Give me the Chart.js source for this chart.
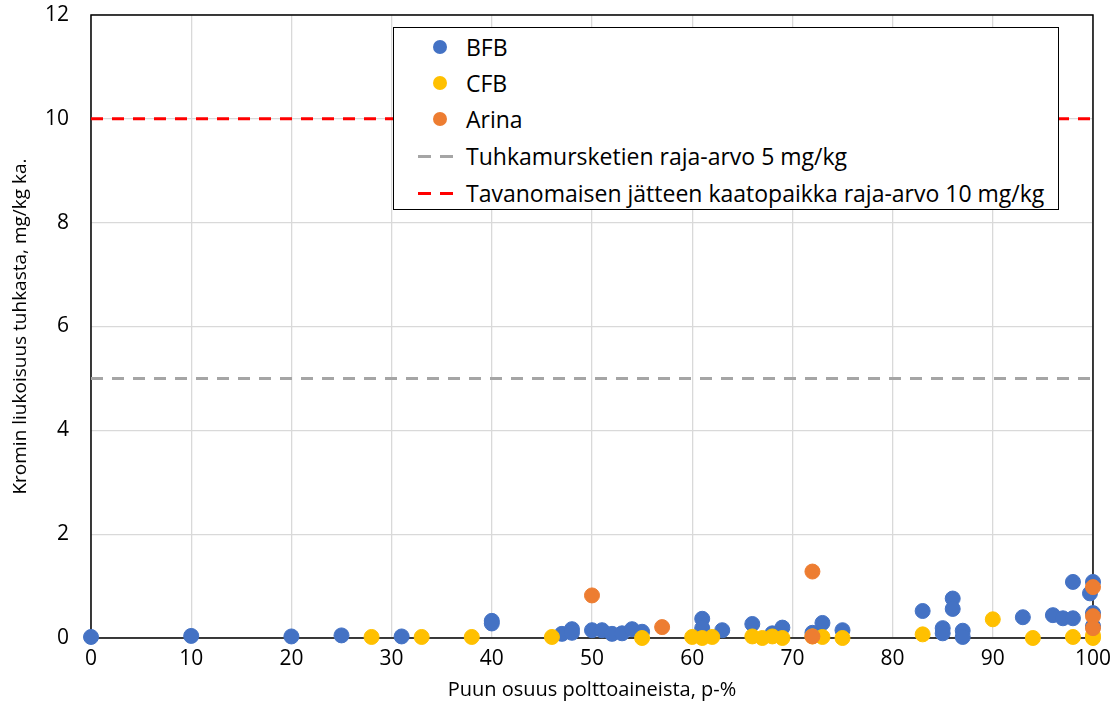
<!DOCTYPE html>
<html>
  <head>
    <title>Kromin liukoisuus tuhkasta</title>
    <script src="https://cdn.jsdelivr.net/npm/chart.js"></script>
    <style>
      body { margin: 0; background: #fff; font-family: "Open Sans", sans-serif; }
      #wrap { position: relative; width: 1119px; height: 724px; }
      #legend {
        position: absolute; left: 393px; top: 27px; width: 664px; height: 181px;
        border: 1px solid #000; background: #fff; font-size: 23px; color: #000;
      }
      .row { position: absolute; left: 0; width: 660px; height: 30px; }
      .row span.txt { position: absolute; left: 72px; top: 0; line-height: 30px; white-space: nowrap; }
      .dot { position: absolute; left: 39px; top: 8px; width: 14px; height: 14px; border-radius: 50%; }
      .dash { position: absolute; top: 14px; width: 13px; height: 3px; }
    </style>
  </head>
  <body>
    <div id="wrap">
      <canvas id="myChart" width="1119" height="724"></canvas>
      <div id="legend">
        <div class="row" style="top:4px"><div class="dot" style="background:#4472C4"></div><span class="txt">BFB</span></div>
        <div class="row" style="top:40px"><div class="dot" style="background:#FFC000"></div><span class="txt">CFB</span></div>
        <div class="row" style="top:76px"><div class="dot" style="background:#ED7D31"></div><span class="txt">Arina</span></div>
        <div class="row" style="top:113px"><div class="dash" style="left:24px;background:#A5A5A5"></div><div class="dash" style="left:46px;background:#A5A5A5"></div><span class="txt">Tuhkamursketien raja-arvo 5 mg/kg</span></div>
        <div class="row" style="top:150px"><div class="dash" style="left:24px;background:#FF0000"></div><div class="dash" style="left:46px;background:#FF0000"></div><span class="txt">Tavanomaisen jätteen kaatopaikka raja-arvo 10 mg/kg</span></div>
      </div>
    </div>

<script>
// puun osuus (p-%) ja kromin liukoisuus (mg/kg ka.)
const bfbX = [0, 10, 20, 25, 31, 40, 40, 47, 48, 48, 50, 51, 52, 53, 54, 55, 61, 61, 63, 66, 68, 69, 72, 73, 75, 83, 85, 85, 86, 86, 87, 87, 93, 96, 97, 98, 98, 100, 99.7, 100, 100];
const bfbY = [0.02, 0.04, 0.03, 0.05, 0.03, 0.33, 0.28, 0.08, 0.17, 0.1, 0.15, 0.15, 0.08, 0.09, 0.17, 0.12, 0.37, 0.19, 0.15, 0.27, 0.09, 0.2, 0.1, 0.29, 0.15, 0.52, 0.19, 0.09, 0.76, 0.56, 0.14, 0.02, 0.4, 0.44, 0.38, 0.38, 1.08, 1.08, 0.86, 0.48, 0.23];

const cfbX = [28, 33, 38, 46, 55, 60, 61, 62, 66, 67, 68, 69, 72, 73, 75, 83, 90, 94, 98, 100, 100];
const cfbY = [0.02, 0.02, 0.02, 0.02, 0.0, 0.02, 0.0, 0.02, 0.03, 0.0, 0.03, 0.0, 0.03, 0.02, 0.0, 0.07, 0.36, 0.0, 0.02, 0.05, 0.0];

const arinaX = [50, 57, 72, 72, 100, 100, 100];
const arinaY = [0.82, 0.21, 1.28, 0.03, 0.98, 0.42, 0.19];

const rajaX = [0, 100];
const raja5 = [5, 5];
const raja10 = [10, 10];

function pts(xs, ys) {
  return xs.map((x, i) => ({ x: x, y: ys[i] }));
}

// musta kehys piirtoalueen ympärille (pisteiden alle)
const frame = {
  id: 'frame',
  beforeDatasetsDraw(chart) {
    const a = chart.chartArea;
    const c = chart.ctx;
    c.save();
    c.strokeStyle = '#000';
    c.lineWidth = 1.5;
    c.strokeRect(a.left, a.top, a.right - a.left, a.bottom - a.top);
    c.restore();
  }
};

Chart.defaults.font.family = '"Open Sans", sans-serif';
Chart.defaults.color = '#000';

const ctx = document.getElementById("myChart").getContext("2d");
new Chart(ctx, {
  type: 'scatter',
  data: {
    datasets: [
      { label: 'BFB', data: pts(bfbX, bfbY), backgroundColor: '#4472C4', borderColor: '#4472C4', pointRadius: 7.5, pointHoverRadius: 7.5, clip: false, order: 5 },
      { label: 'CFB', data: pts(cfbX, cfbY), backgroundColor: '#FFC000', borderColor: '#FFC000', pointRadius: 7.5, pointHoverRadius: 7.5, clip: false, order: 4 },
      { label: 'Arina', data: pts(arinaX, arinaY), backgroundColor: '#ED7D31', borderColor: '#ED7D31', pointRadius: 7.5, pointHoverRadius: 7.5, clip: false, order: 3 },
      { label: 'Tuhkamursketien raja-arvo 5 mg/kg', data: pts(rajaX, raja5), showLine: true, pointRadius: 0, borderColor: '#A5A5A5', borderWidth: 3, borderDash: [12, 9], order: 6 },
      { label: 'Tavanomaisen jätteen kaatopaikka raja-arvo 10 mg/kg', data: pts(rajaX, raja10), showLine: true, pointRadius: 0, borderColor: '#FF0000', borderWidth: 3, borderDash: [12, 9], order: 7 }
    ]
  },
  options: {
    responsive: false,
    animation: false,
    layout: { padding: { left: 0, right: 26, top: 15, bottom: 0 } },
    plugins: {
      legend: { display: false },
      tooltip: { enabled: false }
    },
    scales: {
      x: {
        type: 'linear', min: 0, max: 100,
        ticks: { stepSize: 10, font: { size: 21 }, padding: 8 },
        grid: { color: '#D9D9D9', lineWidth: 1.3, drawTicks: false },
        border: { display: false },
        title: { display: true, text: 'Puun osuus polttoaineista, p-%', font: { size: 20 }, padding: { top: 0, bottom: 22 } },
        afterFit: s => { s.height = 86; }
      },
      y: {
        min: 0, max: 12,
        ticks: { stepSize: 2, font: { size: 21 }, padding: 22 },
        grid: { color: '#D9D9D9', lineWidth: 1.3, drawTicks: false },
        border: { display: false },
        title: { display: true, text: 'Kromin liukoisuus tuhkasta, mg/kg ka.', font: { size: 19 }, padding: { top: 9, bottom: 0 } },
        afterFit: s => { s.width = 91; s.paddingTop = 0; s.paddingBottom = 0; }
      }
    }
  },
  plugins: [frame]
});
</script>
  </body>
</html>
